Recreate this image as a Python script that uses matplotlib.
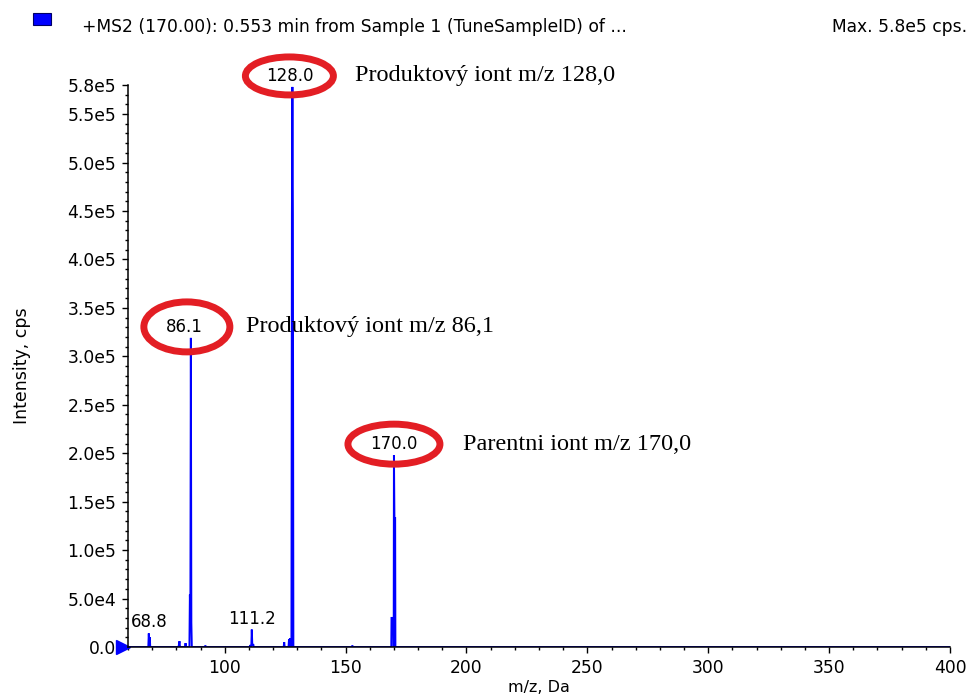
import matplotlib
matplotlib.use("Agg")
import matplotlib.pyplot as plt
import matplotlib.transforms as mtransforms
from matplotlib.patches import Ellipse, Rectangle
from matplotlib.ticker import MultipleLocator, FixedLocator

# ---------------- data (profile spectrum) ----------------
mz = [60.0, 68.4, 68.6, 68.8, 69.0, 69.2,
      80.9, 81.1, 81.3, 81.5,
      83.6, 83.8, 84.0,
      85.4, 85.6, 85.8, 86.0, 86.2, 86.4,
      91.8, 92.0, 92.2,
      110.4, 110.6, 110.8, 111.0, 111.2, 111.4, 111.6, 111.8, 112.0,
      124.4, 124.6, 124.8,
      126.4, 126.6, 126.8, 127.0, 127.2,
      127.6, 127.8, 128.0, 128.2, 128.4,
      152.6, 152.8, 153.0,
      168.9, 169.0, 169.8, 169.9, 170.0, 170.2, 170.5, 170.6,
      400.0]
intensity = [0, 0, 1.4e4, 3.0e3, 1.0e4, 0,
             0, 3.0e3, 6.0e3, 0,
             0, 4.0e3, 0,
             0, 5.4e4, 3.0e4, 3.19e5, 2.5e4, 0,
             0, 1.5e3, 0,
             0, 2.0e3, 0, 0, 1.8e4, 3.0e3, 2.0e3, 3.0e3, 0,
             0, 5.0e3, 0,
             0, 8.0e3, 3.0e3, 9.0e3, 0,
             0, 4.45e5, 5.78e5, 4.45e5, 0,
             0, 1.5e3, 0,
             0, 3.0e4, 3.0e4, 0, 1.98e5, 1.33e5, 1.33e5, 0,
             0]

label_text = ["68.8", "86.1", "111.2", "128.0", "170.0"]
label_mz = [68.6, 86.0, 111.2, 128.0, 170.0]
label_int = [1.4e4, 3.19e5, 1.8e4, 5.78e5, 1.98e5]

note_text = {"86.1": "Produktový iont m/z 86,1",
             "128.0": "Produktový iont m/z 128,0",
             "170.0": "Parentni iont m/z 170,0"}

ytick_values = [0, 5e4, 1e5, 1.5e5, 2e5, 2.5e5, 3e5, 3.5e5, 4e5, 4.5e5, 5e5, 5.5e5, 5.8e5]
ytick_labels = ["0.0", "5.0e4", "1.0e5", "1.5e5", "2.0e5", "2.5e5", "3.0e5",
                "3.5e5", "4.0e5", "4.5e5", "5.0e5", "5.5e5", "5.8e5"]
xticks = [100, 150, 200, 250, 300, 350, 400]

header = "+MS2 (170.00): 0.553 min from Sample 1 (TuneSampleID) of ..."
max_text = "Max. 5.8e5 cps."

# ---------------- styling ----------------
W, H, DPI = 969, 698, 100
BLUE = "#0000ff"
RED = "#e31e24"
SANS = ["DejaVu Sans"]
SERIF = ["Liberation Serif", "DejaVu Serif"]

# ellipse sizes (px) and x offsets for circled labels
ell_size = {"86.1": (86, 50), "128.0": (88, 38), "170.0": (92, 40)}
lab_dx = {"86.1": -7, "128.0": -3}
ell_dx = {"86.1": 3}
note_dx = {"86.1": 62, "128.0": 66, "170.0": 69}

fig = plt.figure(figsize=(W / DPI, H / DPI), dpi=DPI)
ax = fig.add_axes([128 / W, 1 - 647 / H, (950 - 128) / W, (647 - 85) / H])

ax.plot(mz, intensity, color=BLUE, lw=1.4, solid_joinstyle="miter")
ax.set_xlim(60, 400)
ax.set_ylim(0, 5.8e5)

for s in ["top", "right"]:
    ax.spines[s].set_visible(False)
for s in ["left", "bottom"]:
    ax.spines[s].set_linewidth(1.1)

ax.xaxis.set_major_locator(FixedLocator(xticks))
ax.xaxis.set_minor_locator(MultipleLocator(10))
ax.set_xticklabels([str(v) for v in xticks])
ax.yaxis.set_major_locator(FixedLocator(ytick_values))
ax.set_yticklabels(ytick_labels)
ax.yaxis.set_minor_locator(MultipleLocator(1e4))
ax.tick_params(which="major", direction="out", length=4.5, width=1.0, labelsize=12.3, pad=4)
ax.tick_params(which="minor", direction="out", length=2.2, width=1.0)
for lab in ax.get_xticklabels() + ax.get_yticklabels():
    lab.set_family(SANS)

ax.set_ylabel("Intensity, cps", fontsize=12.5, family=SANS)
ax.yaxis.set_label_coords(-(128 - 31) / (950 - 128), 0.5)
fig.text(539 / W, 1 - 687 / H, "m/z, Da", fontsize=11.5, family=SANS,
         ha="center", va="center")

# triangle marker at left end of baseline
tri_tr = ax.transData + mtransforms.ScaledTranslation(-5 / DPI, 0, fig.dpi_scale_trans)
ax.plot([60], [0], marker=">", ms=10, color=BLUE, transform=tri_tr, clip_on=False)

# peak labels, ellipses and notes
fig.canvas.draw()
for t, x, y in zip(label_text, label_mz, label_int):
    dx = lab_dx.get(t, 0)
    ax.annotate(t, (x, y), xytext=(dx, 11), textcoords="offset pixels",
                ha="center", va="center", fontsize=12, family=SANS,
                annotation_clip=False)
    if t in note_text:
        px, py = ax.transData.transform((x, y))
        cx, cy = px + dx, py + 11
        w, h = ell_size[t]
        fig.patches.append(Ellipse((cx + ell_dx.get(t, 0), cy), w, h, transform=None,
                                   fill=False, ec=RED, lw=5))
        fig.text((cx + note_dx[t]) / W, cy / H, note_text[t], fontsize=17.5, family=SERIF,
                 ha="left", va="center", color="#000000")

# header
fig.patches.append(Rectangle((33 / W, 1 - 25 / H), 18 / W, 12 / H,
                             transform=fig.transFigure, fc=BLUE, ec="#000066", lw=0.8))
fig.text(82 / W, 1 - 27 / H, header, fontsize=12.3, family=SANS, ha="left", va="center")
fig.text(967 / W, 1 - 27 / H, max_text, fontsize=12.3, family=SANS, ha="right", va="center")

fig.savefig("out.png", dpi=DPI)
